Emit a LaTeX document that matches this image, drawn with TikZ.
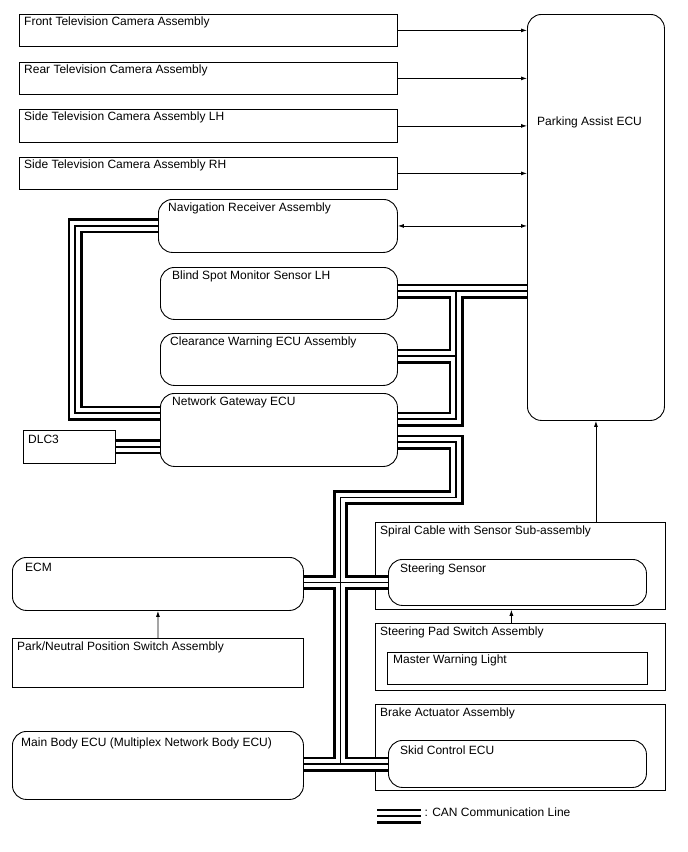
\documentclass[tikz,border=0pt]{standalone}
\usepackage{fontspec}
\setmainfont{Liberation Sans}
\usetikzlibrary{arrows.meta}

\tikzset{
  box/.style 2 args={draw, line width=0.8pt, anchor=north west, inner sep=0pt,
    minimum width=#1pt, minimum height=#2pt},
  ecubox/.style 2 args={box={#1}{#2}, line width=0.9pt, rounded corners=14pt},
  txt/.style={anchor=north west, inner sep=0pt},
  sig/.style={line width=0.8pt, -{Latex[length=6pt,width=4pt]}},
  sigboth/.style={line width=0.8pt, {Latex[length=6pt,width=4pt]}-{Latex[length=6pt,width=4pt]}},
}

\newcommand{\canlines}{
  (nav.west) -| (navloop) -- (gw.west |- navloop)
  (dlc.east) -- (gw.west |- dlc.east)
  (bsm.east |- upbus) -- (ecu.west |- upbus)
  (upbus) -- (upend) -- (gw.east |- upend)
  (clrtap) -- (clr.east |- clrtap)
  (gw.east |- lowtop) -- (lowtop) |- (lowbus) -- (lowend)
  (ecm.east |- steer.west) -- (steer.west)
  (mb.east |- lowend) -- (skid.west |- lowend)
  (legA) -- (legB)
}

\begin{document}
\begin{tikzpicture}[x=1pt, y=-1pt, every node/.style={font=\fontsize{12}{14}\selectfont}]
  \useasboundingbox (0,0) rectangle (688,852);

  \node[box={378}{32}, label={[txt,xshift=5pt,yshift=-3pt]north west:Front Television Camera Assembly}] (front) at (19,14) {};
  \node[box={378}{32}, label={[txt,xshift=5pt,yshift=-3pt]north west:Rear Television Camera Assembly}] (rear) at (19,62) {};
  \node[box={378}{33}, label={[txt,xshift=5pt,yshift=-3pt]north west:Side Television Camera Assembly LH}] (sidelh) at (19,109) {};
  \node[box={378}{32}, label={[txt,xshift=5pt,yshift=-3pt]north west:Side Television Camera Assembly RH}] (siderh) at (19,157) {};
  \node[ecubox={137}{406}, label={[txt,anchor=west,xshift=10pt,yshift=-108pt]north west:Parking Assist ECU}] (ecu) at (527,14) {};

  \node[ecubox={239}{53}, label={[txt,xshift=10pt,yshift=-4pt]north west:Navigation Receiver Assembly}] (nav) at (158,199) {};
  \node[ecubox={237}{52}, label={[txt,xshift=12pt,yshift=-4pt]north west:Blind Spot Monitor Sensor LH}] (bsm) at (160,267) {};
  \node[ecubox={237}{52}, label={[txt,xshift=10pt,yshift=-4pt]north west:Clearance Warning ECU Assembly}] (clr) at (160,333) {};
  \node[ecubox={237}{73}, label={[txt,xshift=12pt,yshift=-4pt]north west:Network Gateway ECU}] (gw) at (160,393) {};
  \node[box={92}{33}, label={[txt,xshift=5pt,yshift=-5pt]north west:DLC3}] (dlc) at (23,430) {};

  \node[ecubox={291}{53}, label={[txt,xshift=13pt,yshift=-6pt]north west:ECM}] (ecm) at (12,557) {};
  \node[box={291}{49}, label={[txt,xshift=5pt,yshift=-4pt]north west:Park/Neutral Position Switch Assembly}] (pns) at (12,638) {};
  \node[ecubox={291}{68}, label={[txt,xshift=9pt,yshift=-7pt]north west:Main Body ECU (Multiplex Network Body ECU)}] (mb) at (12,731) {};

  \node[box={290}{87}, label={[txt,xshift=5pt,yshift=-4pt]north west:Spiral Cable with Sensor Sub-assembly}] (spiral) at (375,522) {};
  \node[ecubox={258}{46}, label={[txt,xshift=12pt,yshift=-5pt]north west:Steering Sensor}] (steer) at (388,559) {};
  \node[box={290}{67}, label={[txt,xshift=5pt,yshift=-4pt]north west:Steering Pad Switch Assembly}] (pad) at (375,623) {};
  \node[box={260}{32}, label={[txt,xshift=6pt,yshift=-3pt]north west:Master Warning Light}] (mwl) at (387,652) {};
  \node[box={290}{86}, label={[txt,xshift=5pt,yshift=-4pt]north west:Brake Actuator Assembly}] (brake) at (375,704) {};
  \node[ecubox={258}{47}, label={[txt,xshift=12pt,yshift=-6pt]north west:Skid Control ECU}] (skid) at (388,740) {};

  \draw[sig] (front.east) -- (ecu.west |- front.east);
  \draw[sig] (rear.east) -- (ecu.west |- rear.east);
  \draw[sig] (sidelh.east) -- (ecu.west |- sidelh.east);
  \draw[sig] (siderh.east) -- (ecu.west |- siderh.east);
  \draw[sigboth] (nav.east) -- (ecu.west |- nav.east);
  \draw[sig] (spiral.north -| ecu.south) -- (ecu.south);
  \draw[sig] ([xshift=-9pt]pad.north) -- ([xshift=-9pt]spiral.south);
  \draw[sig] (pns.north) -- (ecm.south);

  \coordinate (navloop) at (75,413);
  \coordinate (upbus) at (456,291);
  \coordinate (clrtap) at (456,356);
  \coordinate (upend) at (456,419);
  \coordinate (lowtop) at (456,442);
  \coordinate (lowbus) at (340.5,497.5);
  \coordinate (lowend) at (340.5,764);
  \coordinate (legA) at (377,816);
  \coordinate (legB) at (421,816);

  \foreach \w/\c in {15/black, 9.4/white, 1.3/black}
    \draw[line width=\w pt, \c] \canlines;

  \node[anchor=west] (legtxt) at (421,812) {: CAN Communication Line};
\end{tikzpicture}
\end{document}
